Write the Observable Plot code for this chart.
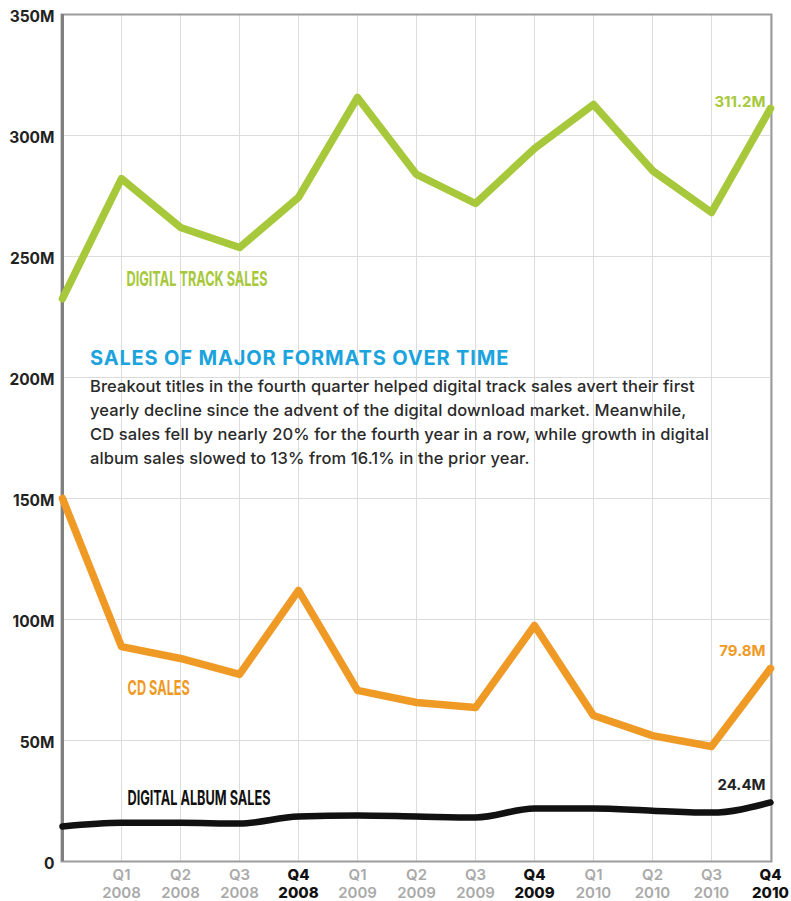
<!DOCTYPE html>
<html>
<head>
<meta charset="utf-8">
<script src="https://cdn.jsdelivr.net/npm/d3@7"></script>
<script src="https://cdn.jsdelivr.net/npm/@observablehq/plot@0.6"></script>
<style>
  html, body { margin: 0; padding: 0; background: #fff; }
  #wrap { position: relative; width: 791px; height: 901px; overflow: hidden; }
  #note { position: absolute; left: 90px; top: 345px; font-family: Inter, "Open Sans", sans-serif; }
  #note h2 { margin: 0; font-size: 20px; font-weight: 700; color: #1ba3dd; letter-spacing: 0.85px; line-height: 26px; }
  #note p { margin: 3px 0 0 0; font-size: 16.5px; font-weight: 500; color: #2a2a2a; line-height: 24px; letter-spacing: 0.1px; }
</style>
</head>
<body>
<div id="wrap">
  <div id="chart"></div>
  <div id="note">
    <h2>SALES OF MAJOR FORMATS OVER TIME</h2>
    <p>Breakout titles in the fourth quarter helped digital track sales avert their first<br>yearly decline since the advent of the digital download market. Meanwhile,<br>CD sales fell by nearly 20% for the fourth year in a row, while growth in digital<br>album sales slowed to 13% from 16.1% in the prior year.</p>
  </div>
</div>
<script>
// ---- data ----
const quarterNames = ["Q4", "Q1", "Q2", "Q3", "Q4", "Q1", "Q2", "Q3", "Q4", "Q1", "Q2", "Q3", "Q4"];
const years = ["2007", "2008", "2008", "2008", "2008", "2009", "2009", "2009", "2009", "2010", "2010", "2010", "2010"];
const digitalTrackSales = [232.6, 282.2, 262.0, 253.7, 274.4, 315.7, 283.9, 271.9, 294.6, 312.8, 285.5, 268.2, 311.2];
const cdSales = [150.0, 88.8, 83.9, 77.3, 112.0, 70.7, 65.7, 63.6, 97.5, 60.3, 52.0, 47.5, 79.8];
const digitalAlbumSales = [14.5, 16.0, 16.0, 15.7, 18.6, 19.0, 18.6, 18.2, 21.9, 21.9, 21.0, 20.2, 24.4];
const yTicks = [0, 50, 100, 150, 200, 250, 300, 350];
const seriesNames = ["DIGITAL TRACK SALES", "CD SALES", "DIGITAL ALBUM SALES"];
const endLabels = ["311.2M", "79.8M", "24.4M"];

// ---- derived table ----
const periods = quarterNames.map((q, i) => q + "\n" + years[i]);
const rows = periods.map((p, i) => ({
  period: p, quarter: quarterNames[i],
  track: digitalTrackSales[i], cd: cdSales[i], album: digitalAlbumSales[i]
}));
const labeled = periods.slice(1);
const last = rows[rows.length - 1];

const GREEN = "#a6c83a", ORANGE = "#f09a26", BLACK = "#111111";
const fmt = d => d === 0 ? "0" : d + "M";
const xLabelOpts = { x: d => d, text: d => d, frameAnchor: "bottom", lineAnchor: "top", dy: 6, fontSize: 15, lineHeight: 1.2 };
const seriesOpts = { x: () => periods[1], text: d => d, textAnchor: "start", dx: 6, fontSize: 20.5, fontWeight: 700 };

const chart = Plot.plot({
  width: 791,
  height: 901,
  marginLeft: 61,
  marginRight: 20,
  marginTop: 14,
  marginBottom: 40,
  style: { fontFamily: "Inter, 'Open Sans', sans-serif", background: "#fff" },
  x: { type: "point", domain: periods, padding: 0, axis: null },
  y: { domain: [0, 350], axis: null },
  marks: [
    Plot.ruleY(yTicks, { stroke: "#dcdcdc", strokeWidth: 1 }),
    Plot.ruleX(periods, { stroke: "#dcdcdc", strokeWidth: 1 }),
    Plot.frame({ stroke: "#9c9c9c", strokeWidth: 2 }),
    Plot.ruleX([periods[0]], { stroke: "#808080", strokeWidth: 3 }),
    // y tick labels
    Plot.text(yTicks, { y: d => d, text: fmt, frameAnchor: "left", textAnchor: "end", dx: -7, dy: 3, fontSize: 15.5, fontWeight: 700, fill: "#222" }),
    // x tick labels
    Plot.text(labeled.filter((p, i) => quarterNames[i + 1] !== "Q4"), { ...xLabelOpts, fontWeight: 600, fill: "#a9a9a9" }),
    Plot.text(labeled.filter((p, i) => quarterNames[i + 1] === "Q4"), { ...xLabelOpts, fontWeight: 800, fill: "#111" }),
    // lines
    Plot.line(rows, { x: "period", y: "album", stroke: BLACK, strokeWidth: 6.5, curve: "monotone-x" }),
    Plot.line(rows, { x: "period", y: "cd", stroke: ORANGE, strokeWidth: 7.5, strokeLinejoin: "round" }),
    Plot.line(rows, { x: "period", y: "track", stroke: GREEN, strokeWidth: 7.5, strokeLinejoin: "round" }),
    // series labels
    Plot.text([seriesNames[0]], { ...seriesOpts, y: () => 240.5, fill: GREEN, dx: 5 }),
    Plot.text([seriesNames[1]], { ...seriesOpts, y: () => 71.5, fill: ORANGE }),
    Plot.text([seriesNames[2]], { ...seriesOpts, y: () => 26.2, fill: BLACK }),
    // end labels
    Plot.text([last], { x: "period", y: "track", text: () => endLabels[0], textAnchor: "end", dx: -5, dy: -6, fontSize: 15, fontWeight: 700, fill: GREEN }),
    Plot.text([last], { x: "period", y: "cd", text: () => endLabels[1], textAnchor: "end", dx: -5, dy: -17, fontSize: 15, fontWeight: 700, fill: ORANGE }),
    Plot.text([last], { x: "period", y: "album", text: () => endLabels[2], textAnchor: "end", dx: -5, dy: -17, fontSize: 15, fontWeight: 700, fill: "#222" })
  ]
});
document.getElementById("chart").appendChild(chart);

// condensed look for the series names (no condensed font is installed)
d3.select(chart).selectAll("text")
  .filter(function () { return seriesNames.includes(this.textContent); })
  .each(function () {
    const w = this.getComputedTextLength();
    this.setAttribute("textLength", (w * 0.62).toFixed(1));
    this.setAttribute("lengthAdjust", "spacingAndGlyphs");
  });
</script>
</body>
</html>
